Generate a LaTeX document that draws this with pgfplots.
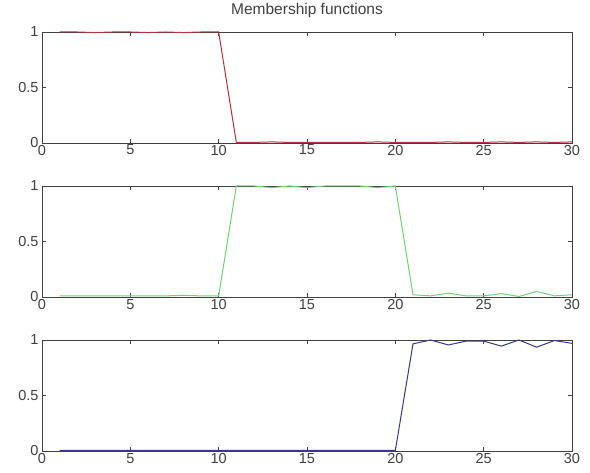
\documentclass[border=0pt]{standalone}
\usepackage{fontspec}
\setmainfont{Liberation Sans}
\usepackage{pgfplots}
\pgfplotsset{compat=1.18}
\definecolor{cred}{rgb}{0.70,0.20,0.25}
\definecolor{cgreen}{rgb}{0.45,0.82,0.45}
\definecolor{cblue}{rgb}{0.22,0.22,0.55}
\pgfplotsset{
  mf/.style={
    scale only axis, width=530pt, height=111pt,
    xmin=0, xmax=30, ymin=0, ymax=1,
    xtick={0,5,...,30}, ytick={0,0.5,1},
    yticklabels={0,0.5,1},
    tick align=inside, tick pos=both,
    major tick length=4pt,
    axis line style={black!75, line width=0.9pt},
    tick style={black!75, line width=0.6pt},
    ticklabel style={font=\fontsize{14.5}{16}\selectfont, text=black!75},
    /pgf/number format/assume math mode=true,
    xticklabel style={yshift=1.5pt},
    clip=false,
  }
}
\begin{document}
\begin{tikzpicture}[x=1pt,y=1pt]
\path[use as bounding box] (0,0) rectangle (590,473);
\begin{axis}[mf, at={(42pt,330pt)}, anchor=south west,
  title={Membership functions}, title style={font=\fontsize{15.5}{17}\selectfont, text=black!75, at={(0.5,1)}, anchor=base, yshift=11pt}]
\addplot[cred, line width=1pt] coordinates {
(1,1)(2,1)(3,0.995)(4,1)(5,1)(6,0.995)(7,1)(8,0.995)(9,1)(10,1)
(11,0.005)(12,0.005)(13,0.01)(14,0.005)(15,0.005)(16,0.005)(17,0.005)(18,0.005)(19,0.01)(20,0.005)
(21,0.005)(22,0.005)(23,0.01)(24,0.005)(25,0.005)(26,0.01)(27,0.005)(28,0.01)(29,0.005)(30,0.01)};
\end{axis}
\begin{axis}[mf, at={(42pt,176pt)}, anchor=south west]
\addplot[cgreen, line width=1pt] coordinates {
(1,0.01)(2,0.01)(3,0.01)(4,0.01)(5,0.01)(6,0.01)(7,0.01)(8,0.015)(9,0.01)(10,0.01)
(11,1)(12,1)(13,0.985)(14,1)(15,0.985)(16,1)(17,1)(18,1)(19,0.985)(20,1)
(21,0.02)(22,0.01)(23,0.035)(24,0.01)(25,0.01)(26,0.03)(27,0.005)(28,0.05)(29,0.01)(30,0.02)};
\end{axis}
\begin{axis}[mf, at={(42pt,22pt)}, anchor=south west]
\addplot[cblue, line width=1pt] coordinates {
(1,0.005)(2,0.005)(3,0.005)(4,0.005)(5,0.005)(6,0.005)(7,0.005)(8,0.005)(9,0.005)(10,0.005)
(11,0.005)(12,0.005)(13,0.005)(14,0.005)(15,0.005)(16,0.005)(17,0.005)(18,0.005)(19,0.005)(20,0.005)
(21,0.965)(22,1)(23,0.955)(24,0.99)(25,0.99)(26,0.945)(27,1)(28,0.935)(29,0.995)(30,0.97)};
\end{axis}
\end{tikzpicture}
\end{document}
